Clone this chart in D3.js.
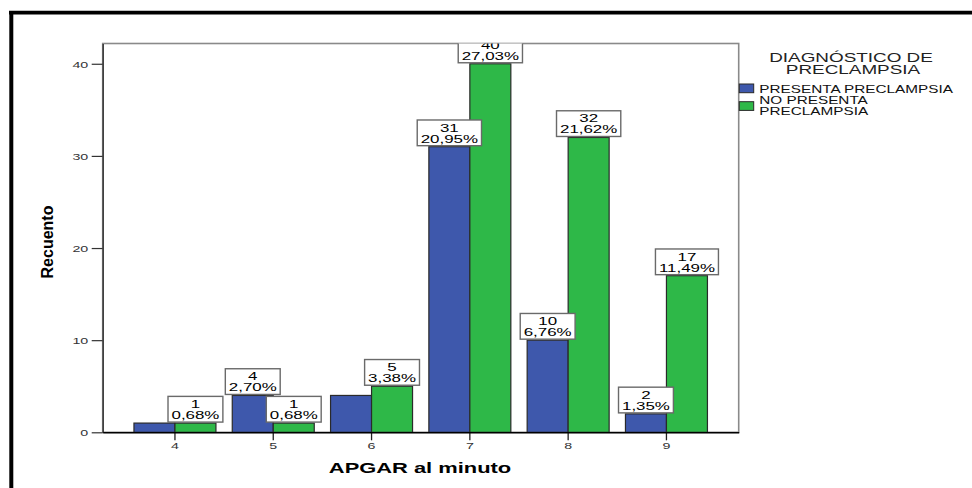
<!DOCTYPE html>
<html>
<head>
<meta charset="utf-8">
<script src="https://cdn.jsdelivr.net/npm/d3@7"></script>
<style>
  html, body { margin: 0; padding: 0; background: #fff; }
  svg { display: block; }
  text { font-family: "Liberation Sans", Arial, sans-serif; }
</style>
</head>
<body>
<svg id="chart" width="972" height="488"></svg>
<script>
// APGAR score at one minute, split by preeclampsia diagnosis (counts)
const categories = ["4", "5", "6", "7", "8", "9"];
const seriesNames = ["PRESENTA PRECLAMPSIA", "NO PRESENTA PRECLAMPSIA"];
const presenta = [1, 4, 4, 31, 10, 2];
const noPresenta = [1, 1, 5, 40, 32, 17];
// labels SPSS suppressed where they would overlap a neighbour
const presentaLabelShown = [false, true, false, true, true, true];
const noPresentaLabelShown = [true, true, true, true, true, true];
const yTicks = [0, 10, 20, 30, 40];
const colors = ["#3E58AC", "#2EB848"];

const total = d3.sum(presenta) + d3.sum(noPresenta);
const pct = v => (v / total * 100).toFixed(2).replace(".", ",") + "%";

const svg = d3.select("#chart");
const SX = 1.5; // horizontal stretch of the exported text

function stretched(parent, x, y, str, o = {}) {
  const s = o.sx || SX;
  const g = parent.append("g").attr("transform", `translate(${x},${y}) scale(${s},1)`);
  return g.append("text")
    .attr("text-anchor", o.anchor || "start")
    .attr("font-size", o.size || 10)
    .attr("font-weight", o.weight || "normal")
    .attr("fill", o.fill || "#000")
    .text(str);
}

// outer frame
svg.append("line").attr("x1", 9).attr("x2", 972).attr("y1", 12.6).attr("y2", 12.6)
  .attr("stroke", "#000").attr("stroke-width", 3.6);
svg.append("line").attr("x1", 11.3).attr("x2", 11.3).attr("y1", 11).attr("y2", 488)
  .attr("stroke", "#000").attr("stroke-width", 4);

const plot = { left: 102.7, right: 738.7, top: 43.5, bottom: 432.3 };

const x = d3.scaleBand().domain(categories)
  .range([plot.left, plot.right]).paddingInner(0.166).paddingOuter(0.318);
const xs = d3.scaleBand().domain([0, 1]).range([0, x.bandwidth()]);
const y = d3.scaleLinear().domain([0, 42.2]).range([plot.bottom, plot.top]);

// plot frame
svg.append("rect").attr("x", plot.left).attr("y", plot.top)
  .attr("width", plot.right - plot.left).attr("height", plot.bottom - plot.top)
  .attr("fill", "#fff").attr("stroke", "#8a8a8a").attr("stroke-width", 1.6);

svg.append("defs").append("clipPath").attr("id", "plotClip")
  .append("rect").attr("x", plot.left - 40).attr("y", plot.top)
  .attr("width", plot.right - plot.left + 80).attr("height", plot.bottom - plot.top + 5);

// bars
const rows = categories.map((c, i) => ({
  cat: c,
  vals: [
    { s: 0, v: presenta[i], show: presentaLabelShown[i] },
    { s: 1, v: noPresenta[i], show: noPresentaLabelShown[i] }
  ]
}));

const groups = svg.append("g").selectAll("g").data(rows).join("g")
  .attr("transform", d => `translate(${x(d.cat)},0)`);

groups.selectAll("rect").data(d => d.vals).join("rect")
  .attr("x", d => xs(d.s))
  .attr("y", d => y(d.v))
  .attr("width", xs.bandwidth())
  .attr("height", d => y(0) - y(d.v))
  .attr("fill", d => colors[d.s])
  .attr("stroke", "#2a2a2a").attr("stroke-width", 1.2);

// axes
const yAxis = svg.append("g").attr("transform", `translate(${plot.left},0)`)
  .call(d3.axisLeft(y).tickValues(yTicks).tickSize(11).tickSizeOuter(0));
yAxis.select(".domain").attr("stroke", "#333").attr("stroke-width", 1.4);
yAxis.selectAll(".tick line").attr("stroke", "#333").attr("stroke-width", 1.2);
yAxis.selectAll(".tick text")
  .attr("x", -14.4 / SX).attr("dy", "0.36em")
  .attr("transform", `scale(${SX},1)`)
  .attr("font-size", 9.5).attr("fill", "#333")
  .attr("font-family", "Liberation Sans, Arial, sans-serif");

const xAxis = svg.append("g").attr("transform", `translate(0,${plot.bottom})`)
  .call(d3.axisBottom(x).tickSize(8).tickSizeOuter(0).tickPadding(1.5));
xAxis.select(".domain").attr("stroke", "#000").attr("stroke-width", 1.5);
xAxis.selectAll(".tick line").attr("stroke", "#222").attr("stroke-width", 1.3);
xAxis.selectAll(".tick").each(function () {
  const t = d3.select(this);
  const tx = t.attr("transform");
  t.select("text")
    .attr("font-size", 9.5).attr("fill", "#333")
    .attr("font-family", "Liberation Sans, Arial, sans-serif")
    .attr("transform", `scale(${SX},1)`);
});
xAxis.select(".domain").raise();
yAxis.select(".domain").raise();

// value labels: count over percentage of total
const labelLayer = svg.append("g").attr("clip-path", "url(#plotClip)");
const padX = 3.5, boxH = 25.7, fs = 10.7, lsx = 1.58;
rows.forEach(r => {
  r.vals.forEach(d => {
    if (!d.show) return;
    const cx = x(r.cat) + xs(d.s) + xs.bandwidth() / 2;
    const bottom = y(d.v) - 1;
    const top = bottom - boxH;
    const g = labelLayer.append("g");
    const rect = g.append("rect");
    const t1 = stretched(g, cx, top + 11.7, String(d.v), { anchor: "middle", size: fs, sx: lsx });
    const t2 = stretched(g, cx, top + 22.7, pct(d.v), { anchor: "middle", size: fs, sx: lsx });
    const w = Math.max(t1.node().getComputedTextLength(), t2.node().getComputedTextLength()) * lsx + 2 * padX;
    rect.attr("x", cx - w / 2).attr("y", top).attr("width", w).attr("height", boxH)
      .attr("fill", "#fff").attr("stroke", "#6a6a6a").attr("stroke-width", 1.4);
  });
});

// axis titles
stretched(svg, 420, 473.3, "APGAR al minuto", { anchor: "middle", size: 15, weight: "bold", sx: 1.46 });
svg.append("text")
  .attr("transform", "translate(52.5,242) rotate(-90)")
  .attr("text-anchor", "middle")
  .attr("font-size", 16).attr("font-weight", "bold")
  .text("Recuento");

// legend
const lg = svg.append("g");
stretched(lg, 851, 61.7, "DIAGNÓSTICO DE", { anchor: "middle", size: 12.6, fill: "#222" });
stretched(lg, 853, 74, "PRECLAMPSIA", { anchor: "middle", size: 12.6, fill: "#222" });
const legendItems = [
  { name: seriesNames[0], lines: ["PRESENTA PRECLAMPSIA"], sy: 84 },
  { name: seriesNames[1], lines: ["NO PRESENTA", "PRECLAMPSIA"], sy: 101.7 }
];
legendItems.forEach((it, i) => {
  lg.append("rect").attr("x", 739.3).attr("y", it.sy).attr("width", 14.4).attr("height", 8.7)
    .attr("fill", colors[i]).attr("stroke", "#2a2a2a").attr("stroke-width", 1);
});
stretched(lg, 759.3, 93.3, legendItems[0].lines[0], { size: 10.2, fill: "#111" });
stretched(lg, 759.3, 104.3, legendItems[1].lines[0], { size: 10.2, fill: "#111" });
stretched(lg, 759.3, 115, legendItems[1].lines[1], { size: 10.2, fill: "#111" });
</script>
</body>
</html>
